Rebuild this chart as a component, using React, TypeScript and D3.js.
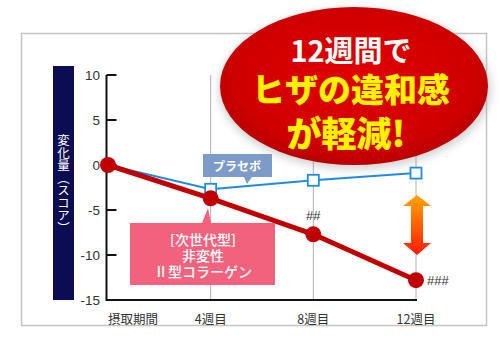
import { useRef, useEffect } from "react";
import * as d3 from "d3";

const weeks = ["摂取期間", "4週目", "8週目", "12週目"];
const placebo = [0, -2.7, -1.7, -0.9];
const collagen = [0, -3.7, -7.7, -12.8];
const yTicks = [10, 5, 0, -5, -10, -15];
const marks = ["", "", "##", "###"];

const W = 500;
const H = 354;

export default function App() {
  const svgRef = useRef<SVGSVGElement>(null);

  useEffect(() => {
    document.body.style.margin = "0";
    const svg = d3.select(svgRef.current);
    svg.selectAll("*").remove();

    const font = "'Noto Sans CJK JP', 'Noto Sans', sans-serif";
    const latin = "'Liberation Sans', Arial, sans-serif";

    const defs = svg.append("defs");
    const ellGrad = defs.append("radialGradient").attr("id", "ellGrad")
      .attr("cx", "50%").attr("cy", "45%").attr("r", "55%");
    ellGrad.append("stop").attr("offset", "0%").attr("stop-color", "#e00000");
    ellGrad.append("stop").attr("offset", "80%").attr("stop-color", "#d00000");
    ellGrad.append("stop").attr("offset", "100%").attr("stop-color", "#b80000");
    const arrGrad = defs.append("linearGradient").attr("id", "arrGrad")
      .attr("x1", 0).attr("y1", 0).attr("x2", 0).attr("y2", 1);
    arrGrad.append("stop").attr("offset", "0%").attr("stop-color", "#ffa600");
    arrGrad.append("stop").attr("offset", "100%").attr("stop-color", "#ff1a00");
    const blur = defs.append("filter").attr("id", "shadow")
      .attr("x", "-20%").attr("y", "-20%").attr("width", "140%").attr("height", "140%");
    blur.append("feGaussianBlur").attr("stdDeviation", 4);

    svg.append("rect").attr("width", W).attr("height", H).attr("fill", "#fff");

    // frame
    svg.append("rect")
      .attr("x", 21.5).attr("y", 33.5).attr("width", 465).attr("height", 292)
      .attr("fill", "#fff").attr("stroke", "#c4c4c4").attr("stroke-width", 1.5);

    const x = d3.scalePoint<string>().domain(weeks).range([108, 416]);
    const y = d3.scaleLinear().domain([-15, 10]).range([300, 75]);

    // y label bar
    svg.append("rect")
      .attr("x", 53).attr("y", 66).attr("width", 21).attr("height", 234)
      .attr("fill", "#0c0c52");
    svg.append("text")
      .attr("x", 63.5).attr("y", 184)
      .attr("text-anchor", "middle")
      .style("writing-mode", "vertical-rl")
      .attr("font-family", font).attr("font-size", 12.5)
      .attr("fill", "#fff")
      .text("変化量（スコア）");

    // gridlines
    weeks.slice(1).forEach(w => {
      svg.append("line")
        .attr("x1", x(w)!).attr("x2", x(w)!)
        .attr("y1", y(10)).attr("y2", y(-15))
        .attr("stroke", "#b0b0b0").attr("stroke-width", 1);
    });

    // axes
    const axisX = 106.5;
    svg.append("line").attr("x1", axisX).attr("x2", axisX)
      .attr("y1", y(10)).attr("y2", y(-15) + 1)
      .attr("stroke", "#111").attr("stroke-width", 2);
    svg.append("line").attr("x1", axisX).attr("x2", x("12週目")! + 1)
      .attr("y1", y(-15)).attr("y2", y(-15))
      .attr("stroke", "#111").attr("stroke-width", 2);
    yTicks.forEach(t => {
      svg.append("line").attr("x1", axisX).attr("x2", axisX + 10)
        .attr("y1", y(t)).attr("y2", y(t))
        .attr("stroke", "#111").attr("stroke-width", 2);
      svg.append("text")
        .attr("x", 100).attr("y", y(t) + 5)
        .attr("text-anchor", "end")
        .attr("font-family", latin).attr("font-size", 13.5)
        .attr("fill", "#333")
        .text(t);
    });
    weeks.forEach((w, i) => {
      svg.append("text")
        .attr("x", i === 0 ? 108 : x(w)!)
        .attr("y", 324)
        .attr("text-anchor", i === 0 ? "start" : "middle")
        .attr("font-family", font).attr("font-size", 12.5)
        .attr("fill", "#333")
        .text(w);
    });

    // placebo line
    const line = d3.line<number>()
      .x((_, i) => x(weeks[i])!)
      .y(d => y(d));
    svg.append("path").datum(placebo)
      .attr("fill", "none").attr("stroke", "#1f8ae6").attr("stroke-width", 2)
      .attr("d", line);
    svg.selectAll(".sq").data(placebo.slice(1)).enter().append("rect")
      .attr("x", (_, i) => x(weeks[i + 1])! - 5.5)
      .attr("y", d => y(d) - 5.5)
      .attr("width", 11).attr("height", 11)
      .attr("fill", "#fff").attr("stroke", "#1f8ae6").attr("stroke-width", 1.8);

    // collagen line
    svg.append("path").datum(collagen)
      .attr("fill", "none").attr("stroke", "#c00000").attr("stroke-width", 5)
      .attr("stroke-linejoin", "round")
      .attr("d", line);
    svg.selectAll(".dot").data(collagen).enter().append("circle")
      .attr("cx", (_, i) => x(weeks[i])!)
      .attr("cy", d => y(d))
      .attr("r", 8)
      .attr("fill", "#c00000");

    // significance marks
    svg.append("text")
      .attr("x", x("8週目")!).attr("y", y(collagen[2]) - 14)
      .attr("text-anchor", "middle")
      .attr("font-family", latin).attr("font-size", 13).attr("fill", "#333")
      .text(marks[2]);
    svg.append("text")
      .attr("x", x("12週目")! + 11).attr("y", y(collagen[3]) + 5)
      .attr("font-family", latin).attr("font-size", 13).attr("fill", "#333")
      .text(marks[3]);

    // placebo callout
    svg.append("path")
      .attr("d", "M203,154 H272 V177 H252 L247,184 L244,177 H203 Z")
      .attr("fill", "#7d9bc8");
    svg.append("text")
      .attr("x", 237).attr("y", 171)
      .attr("text-anchor", "middle")
      .attr("font-family", font).attr("font-size", 12).attr("font-weight", 700)
      .attr("fill", "#fff")
      .text("プラセボ");

    // collagen callout
    svg.append("path")
      .attr("d", "M130,223 H202 L208,208 L211,223 H275 V285 H130 Z")
      .attr("fill", "#f2627c");
    ["[次世代型]", "非変性", "Ⅱ型コラーゲン"].forEach((s, i) => {
      svg.append("text")
        .attr("x", 203).attr("y", 245 + i * 16)
        .attr("text-anchor", "middle")
        .attr("font-family", font).attr("font-size", 14).attr("font-weight", 500)
        .attr("fill", "#fff")
        .text(s);
    });

    // double arrow
    const ax = x("12週目")! + 1;
    svg.append("path")
      .attr("d", `M${ax},195 L${ax + 14},206 H${ax + 6} V243 H${ax + 14} L${ax},255 L${ax - 14},243 H${ax - 6} V206 H${ax - 14} Z`)
      .attr("fill", "url(#arrGrad)");

    // headline ellipse
    svg.append("ellipse")
      .attr("cx", 355).attr("cy", 89).attr("rx", 136).attr("ry", 80)
      .attr("fill", "#999").attr("opacity", 0.45).attr("filter", "url(#shadow)");
    svg.append("ellipse")
      .attr("cx", 354).attr("cy", 86).attr("rx", 134).attr("ry", 79)
      .attr("fill", "url(#ellGrad)");
    svg.append("text")
      .attr("x", 351).attr("y", 62)
      .attr("text-anchor", "middle")
      .attr("font-family", font).attr("font-size", 29).attr("font-weight", 700)
      .attr("fill", "#fff")
      .text("12週間で");
    svg.append("text")
      .attr("x", 351).attr("y", 102)
      .attr("text-anchor", "middle")
      .attr("font-family", font).attr("font-size", 33).attr("font-weight", 900)
      .attr("fill", "#fff200")
      .text("ヒザの違和感");
    svg.append("text")
      .attr("x", 346).attr("y", 147)
      .attr("text-anchor", "middle")
      .attr("font-family", font).attr("font-size", 35).attr("font-weight", 900)
      .attr("fill", "#fff200")
      .text("が軽減!");
  }, []);

  return (
    <svg
      ref={svgRef}
      width={W}
      height={H}
      viewBox={`0 0 ${W} ${H}`}
      style={{ display: "block" }}
    ></svg>
  );
}
